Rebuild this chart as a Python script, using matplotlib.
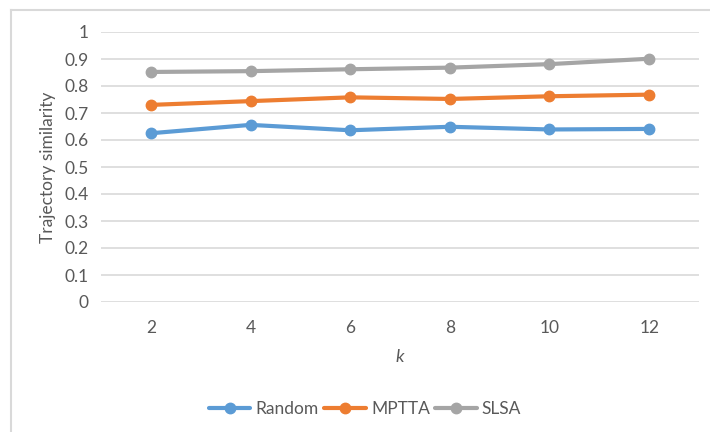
import matplotlib.pyplot as plt
from matplotlib.lines import Line2D

# Значения k и сходство траекторий для трёх методов
k_values = [2, 4, 6, 8, 10, 12]
random_sim = [0.625, 0.656, 0.636, 0.649, 0.639, 0.641]
mptta_sim = [0.730, 0.744, 0.758, 0.752, 0.762, 0.768]
slsa_sim = [0.852, 0.855, 0.862, 0.868, 0.881, 0.901]

y_ticks = [i / 10 for i in range(11)]
y_tick_labels = ['0', '0.1', '0.2', '0.3', '0.4', '0.5', '0.6', '0.7', '0.8', '0.9', '1']

series = [('Random', random_sim, '#5B9BD5'),
          ('MPTTA', mptta_sim, '#ED7D31'),
          ('SLSA', slsa_sim, '#A5A5A5')]

plt.rcParams['font.family'] = ['Lato', 'DejaVu Sans']
TEXT_COLOR = '#595959'

fig = plt.figure(figsize=(7.10, 4.32), dpi=100)
ax = fig.add_axes([101/710, 1 - 302/432, 598/710, 270/432])

# Рамка области диаграммы (видны верхний и левый края)
fig.add_artist(Line2D([11/710, 1.0], [1 - 10/432, 1 - 10/432], color='#D9D9D9', lw=1.5))
fig.add_artist(Line2D([11/710, 11/710], [0.0, 1 - 10/432], color='#D9D9D9', lw=1.5))

for name, vals, color in series:
    ax.plot(k_values, vals, '-o', color=color, lw=3, markersize=7.5,
            label=name, solid_capstyle='round')

ax.set_xlim(1, 13)
ax.set_ylim(0, 1)
ax.set_xticks(k_values)
ax.set_yticks(y_ticks)
ax.set_yticklabels(y_tick_labels)

ax.grid(axis='y', color='#D9D9D9', lw=1.2)
ax.set_axisbelow(True)
for s in ax.spines.values():
    s.set_visible(False)
ax.tick_params(length=0, labelsize=12.5, labelcolor=TEXT_COLOR)
ax.tick_params(axis='y', pad=9)
ax.tick_params(axis='x', pad=13)

ax.set_xlabel('k', style='italic', fontsize=13, color=TEXT_COLOR, labelpad=9)
ax.set_ylabel('Trajectory similarity', fontsize=12.5, color=TEXT_COLOR, labelpad=6)

fig.legend(loc='center', bbox_to_anchor=(365/710, 1 - 409/432), ncol=3,
           frameon=False, fontsize=12.5, labelcolor=TEXT_COLOR,
           handlelength=2.4, handletextpad=0.3, columnspacing=0.3)

fig.savefig('out.png', dpi=100)
